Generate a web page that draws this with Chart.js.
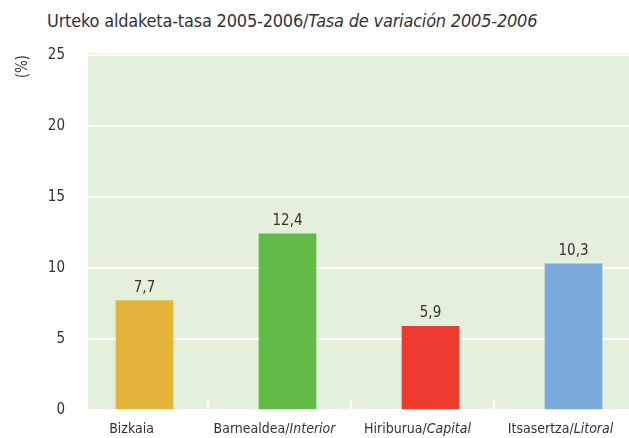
<!DOCTYPE html>
<html>
<head>
<meta charset="utf-8">
<script src="https://cdn.jsdelivr.net/npm/chart.js@4.4.1/dist/chart.umd.min.js"></script>
<style>
  html, body { margin: 0; padding: 0; background: #fff; overflow: hidden; width: 629px; height: 438px; }
  #title { position: absolute; left: 47px; top: 9px; font-family: "DejaVu Sans Condensed", sans-serif; font-size: 18px; line-height: 24px; color: #333; white-space: nowrap; letter-spacing: -0.2px; }
  canvas { position: absolute; left: 0; top: 0; }
</style>
</head>
<body>
<div id="title">Urteko aldaketa-tasa 2005-2006/<i>Tasa de variación 2005-2006</i></div>
<canvas id="chart" width="645" height="438"></canvas>
<script>
// regions: basque name / spanish name (italic)
const regionsEu = ["Bizkaia", "Barnealdea", "Hiriburua", "Itsasertza"]
const regionsEs = ["", "Interior", "Capital", "Litoral"]
const rates = [7.7, 12.4, 5.9, 10.3]
const barColors = ["#e5b43c", "#62bb46", "#ef3b2f", "#7aaadb"]
const yTicks = [0, 5, 10, 15, 20, 25]

const FONT = '"DejaVu Sans Condensed", sans-serif'
const TEXT = "#333"

// green plot panel + small white separators at the bottom
const panel = {
  id: "panel",
  beforeDraw(chart) {
    const { ctx, chartArea: a } = chart
    ctx.save()
    ctx.fillStyle = "#e4efdc"
    ctx.fillRect(a.left + 15, a.top - 2, a.right - a.left, a.bottom - a.top + 2)
    ctx.restore()
  },
  afterDatasetsDraw(chart) {
    const { ctx, chartArea: a, scales } = chart
    const x = scales.x
    ctx.save()
    ctx.strokeStyle = "#fff"
    ctx.lineWidth = 2
    for (let i = 1; i < regionsEu.length; i++) {
      const px = (x.getPixelForTick(i - 1) + x.getPixelForTick(i)) / 2 - 8
      ctx.beginPath()
      ctx.moveTo(px, a.bottom - 10)
      ctx.lineTo(px, a.bottom)
      ctx.stroke()
    }

    // value labels over the bars
    ctx.fillStyle = TEXT
    ctx.font = "15px " + FONT
    ctx.textAlign = "center"
    ctx.textBaseline = "alphabetic"
    chart.getDatasetMeta(0).data.forEach((bar, i) => {
      ctx.fillText(rates[i].toFixed(1).replace(".", ","), bar.x, bar.y - 9)
    })

    // category labels, spanish part in italic
    ctx.textAlign = "left"
    regionsEu.forEach((name, i) => {
      const cx = x.getPixelForTick(i) - 13
      const eu = regionsEs[i] ? name + "/" : name
      ctx.font = "14px " + FONT
      const w1 = ctx.measureText(eu).width
      ctx.font = "italic 14px " + FONT
      const w2 = regionsEs[i] ? ctx.measureText(regionsEs[i]).width : 0
      const start = cx - (w1 + w2) / 2
      ctx.font = "14px " + FONT
      ctx.fillText(eu, start, a.bottom + 23)
      if (regionsEs[i]) {
        ctx.font = "italic 14px " + FONT
        ctx.fillText(regionsEs[i], start + w1, a.bottom + 23)
      }
    })
    ctx.restore()
  }
}

new Chart(document.getElementById("chart"), {
  type: "bar",
  data: {
    labels: regionsEu,
    datasets: [{
      data: rates,
      backgroundColor: barColors,
      barThickness: 57,
      borderWidth: 0
    }]
  },
  options: {
    responsive: false,
    animation: false,
    layout: { padding: { top: 55, left: 0, right: 0, bottom: 0 } },
    plugins: { legend: { display: false }, tooltip: { enabled: false } },
    scales: {
      x: {
        grid: { display: false },
        border: { display: false },
        ticks: { display: false },
        afterFit(scale) { scale.height = 28 }
      },
      y: {
        min: 0,
        max: 25,
        afterBuildTicks(scale) { scale.ticks = yTicks.map(v => ({ value: v })) },
        afterFit(scale) { scale.width = 73 },
        grid: { color: "#fff", lineWidth: 2, drawTicks: false },
        border: { display: false },
        ticks: { color: TEXT, padding: 8, font: { family: FONT, size: 15 } },
        title: {
          display: true,
          text: "(%)",
          align: "end",
          color: TEXT,
          padding: { top: 14, bottom: 0 },
          font: { family: FONT, size: 15 }
        }
      }
    }
  },
  plugins: [panel]
})
</script>
</body>
</html>
